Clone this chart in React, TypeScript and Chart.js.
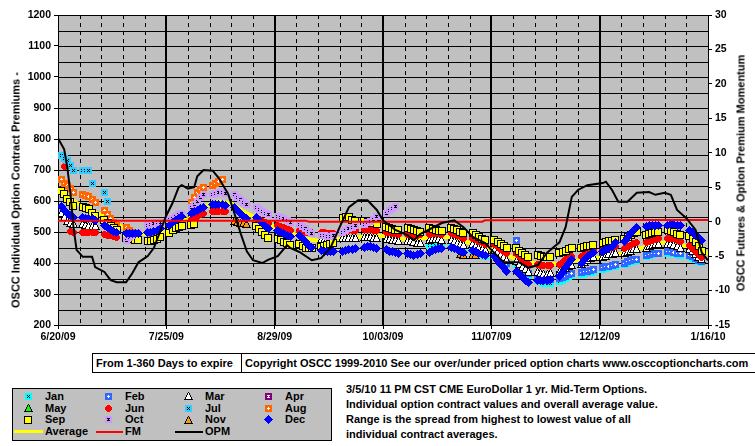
import React, { useEffect, useMemo, useRef } from 'react';
import { Chart, registerables } from 'chart.js';
Chart.register(...registerables);

// x axis: days counted from 6/20/09, labelled every 35 days
const xLabels = ['6/20/09', '7/25/09', '8/29/09', '10/03/09', '11/07/09', '12/12/09', '1/16/10'];

// Contract series: [week index, five weekday values] (week k = days 7k+1 .. 7k+5)
type Weeks = [number, (number | null)[]][];

const jan: Weeks = [
  [17, [456, 456, 457, 457, 456]],
  [18, [456, 452, 448, 445, 442]],
  [19, [440, 435, 430, 426, 422]],
  [20, [425, 418, 410, 402, 395]],
  [21, [395, 385, 375, 367, 360]],
  [22, [345, 340, 335, 333, 333]],
  [23, [340, 345, 350, 355, 360]],
  [24, [362, 366, 368, 370, 372]],
  [25, [380, 383, 386, 388, 390]],
  [26, [396, 400, 404, 406, 408]],
  [27, [420, 425, 428, 430, 432]],
  [28, [432, 432, 430, 428, 425]],
  [29, [420, 415, 410, 405, 402]],
];
const feb: Weeks = [
  [20, [430, 422, 414, 406, 398]],
  [21, [474, 390, 380, 372, 365]],
  [22, [355, 350, 346, 345, 346]],
  [23, [350, 354, 358, 362, 366]],
  [24, [370, 372, 374, 376, 378]],
  [25, [384, 388, 390, 392, 394]],
  [26, [400, 404, 408, 410, 412]],
  [27, [425, 428, 430, 432, 432]],
  [28, [436, 436, 435, 432, 430]],
  [29, [425, 420, 414, 408, 404]],
];
const mar: Weeks = [
  [0, [560, 550, 535, 528, 525]],
  [1, [525, 522, 520, 520, 520]],
  [12, [476, 477, 478, 479, 480]],
  [13, [480, 481, 482, 482, 482]],
  [14, [485, 484, 483, 482, 481]],
  [15, [478, 476, 474, 473, 472]],
  [16, [472, 470, 468, 466, 466]],
  [17, [474, 476, 477, 476, 474]],
  [18, [474, 470, 466, 462, 458]],
  [19, [462, 456, 450, 446, 442]],
  [20, [442, 434, 426, 418, 410]],
  [21, [408, 398, 388, 380, 372]],
  [22, [372, 368, 366, 366, 368]],
  [23, [372, 378, 384, 390, 395]],
  [24, [398, 404, 410, 415, 420]],
  [25, [420, 424, 428, 430, 432]],
  [26, [432, 436, 440, 444, 446]],
  [27, [450, 455, 458, 460, 460]],
  [28, [462, 460, 458, 455, 450]],
  [29, [445, 438, 430, 420, 412]],
];
const apr: Weeks = [];
const may: Weeks = [];
const jun: Weeks = [
  [0, [null, 710, null, 501, 500]],
  [1, [497, 497, 497, 497, 497]],
  [2, [492, 490, 488, 485, 482]],
  [6, [540, 545, 550, 555, 560]],
  [7, [565, 566, 567, 567, 566]],
  [9, [545, 540, 535, 530, 528]],
  [10, [522, 518, 514, 510, 506]],
  [11, [504, 502, 500, 500, 500]],
  [12, [500, 497, 495, 494, 494]],
  [13, [500, 502, 504, 505, 505]],
  [14, [508, 508, 507, 506, 505]],
  [15, [500, 498, 496, 494, 492]],
  [16, [492, 490, 488, 488, 492]],
  [17, [492, 494, 495, 494, 492]],
  [18, [495, 492, 488, 484, 480]],
  [19, [480, 475, 470, 465, 460]],
  [20, [460, 452, 444, 438, 432]],
  [21, [430, 420, 410, 402, 396]],
  [22, [395, 393, 392, 392, 393]],
  [23, [395, 402, 410, 416, 422]],
  [24, [420, 426, 432, 438, 442]],
  [25, [440, 444, 448, 450, 452]],
  [26, [446, 452, 458, 462, 466]],
  [27, [465, 470, 474, 476, 478]],
  [28, [478, 480, 478, 474, 470]],
  [29, [458, 448, 438, 428, 418]],
];
const jul: Weeks = [
  [0, [748, 738, 732, 716, 700]],
  [1, [700, 700, 698, 658, null]],
  [2, [629, 597, null, null, null]],
];
const aug: Weeks = [
  [0, [668, 658, 650, 639, 626]],
  [1, [622, 619, 616, 605, 594]],
  [2, [570, 558, 545, 532, 522]],
  [3, [513, 506, 500, null, null]],
  [4, [null, 492, null, 490, null]],
  [6, [594, 610, 626, 638, 645]],
  [7, [650, 657, 662, 668, null]],
];
const sep: Weeks = [
  [0, [632, 622, 606, 597, 584]],
  [1, [580, 577, 574, 560, 552]],
  [2, [540, 530, 520, 512, 505]],
  [3, [480, 477, 476, 475, 474]],
  [4, [471, 471, 474, 477, 485]],
  [5, [497, 506, 513, 516, 518]],
  [6, [523, 526, null, null, null]],
  [9, [520, 510, 500, 490, 480]],
  [10, [478, 473, 468, 463, 458]],
  [11, [462, 455, 450, 448, 447]],
  [12, [452, 455, 458, 462, 466]],
  [13, [545, 550, 548, 540, 535]],
  [14, [535, 532, 530, 528, 525]],
  [15, [516, 513, 510, 508, 506]],
  [16, [513, 510, 507, 504, 500]],
  [17, [512, 510, 507, 504, 502]],
  [18, [512, 509, 505, 500, 497]],
  [19, [497, 490, 484, 478, 474]],
  [20, [474, 468, 460, 455, 450]],
  [21, [448, 440, 432, 425, 419]],
  [22, [426, 422, 420, 419, 419]],
  [23, [432, 436, 440, 444, 448]],
  [24, [450, 452, 455, 456, 458]],
  [25, [465, 468, 470, 472, 474]],
  [26, [478, 484, 490, 496, 500]],
  [27, [490, 494, 497, 500, 500]],
  [28, [506, 504, 500, 495, 490]],
  [29, [488, 478, 468, 455, 440]],
];
const oct: Weeks = [
  [3, [474, 482, 490, 496, 500]],
  [4, [520, 524, 528, 530, 532]],
  [5, [540, 545, 550, 555, 560]],
  [6, [580, 590, 600, 610, 620]],
  [7, [622, 625, 626, 626, 625]],
  [8, [620, 612, 604, 596, 588]],
  [9, [578, 572, 566, 560, 555]],
  [10, [550, 546, 542, 536, 530]],
  [11, [525, 518, 510, 502, 495]],
  [12, [490, 488, 486, 487, 490]],
  [13, [500, 505, 510, 515, 520]],
  [14, [525, 530, 535, 540, 550]],
  [15, [560, 568, 575, 582, null]],
];
const nov: Weeks = [
  [8, [535, 532, 530, 528, 525]],
  [18, [null, null, null, 428, 427]],
  [19, [426, 426, null, null, null]],
];
const dec: Weeks = [
  [0, [582, 570, 560, 552, 548]],
  [1, [546, 545, 544, 542, 538]],
  [2, [522, 515, 508, 502, 497]],
  [3, [495, 494, 494, 495, 496]],
  [4, [497, 500, 503, 506, 510]],
  [5, [520, 530, 538, 545, 550]],
  [6, [560, 565, 570, 575, 578]],
  [7, [588, 590, 590, 588, 585]],
  [8, [580, 570, 560, 550, 542]],
  [9, [548, 538, 528, 518, 510]],
  [10, [505, 500, 495, 490, 486]],
  [11, [488, 478, 468, 458, 450]],
  [12, [440, 437, 436, 436, 437]],
  [13, [438, 440, 442, 445, 448]],
  [14, [450, 452, 452, 450, 448]],
  [15, [442, 438, 436, 434, 432]],
  [16, [432, 428, 425, 426, 430]],
  [17, [435, 440, 444, 447, 448]],
  [18, [450, 446, 442, 438, 435]],
  [19, [440, 436, 432, 428, 425]],
  [20, [420, 408, 396, 384, 372]],
  [21, [372, 362, 352, 344, 338]],
  [22, [345, 343, 342, 344, 346]],
  [23, [355, 370, 385, 400, 412]],
  [24, [400, 410, 420, 428, 435]],
  [25, [438, 444, 448, 452, 465]],
  [26, [470, 482, 494, 505, 515]],
  [27, [518, 520, 522, 522, 520]],
  [28, [522, 524, 524, 522, 520]],
  [29, [505, 498, 490, 482, 474]],
];

// Average (left axis)
const avgDays = [0, 5, 10, 16, 20, 23, 26, 30, 35, 39, 44, 48, 52, 56, 60, 65, 70, 75, 80, 85, 91, 98, 106, 112, 119, 127, 135, 143, 148, 155, 161, 169, 175, 182, 189, 196, 203, 210];
const avgVals = [642, 600, 570, 548, 520, 505, 495, 494, 500, 525, 552, 585, 598, 592, 565, 540, 516, 500, 478, 470, 478, 485, 488, 476, 481, 484, 458, 435, 413, 397, 397, 410, 417, 429, 450, 466, 455, 430];

// FM (right axis)
const fmDays = [0, 80, 81, 137, 138, 184, 185, 210];
const fmVals = [0.15, 0.15, 0.0, 0.0, 0.2, 0.2, 0.25, 0.25];

// OPM (right axis)
const opmDays = [0, 2, 3, 4, 5, 6, 8, 11, 12, 15, 17, 19, 22, 24, 26, 29, 31, 33, 35, 37, 39, 40, 42, 44, 45, 47, 50, 52, 55, 57, 59, 61, 63, 66, 68, 71, 74, 75, 78, 82, 85, 88, 91, 94, 97, 100, 103, 105, 109, 113, 115, 117, 124, 128, 131, 134, 138, 140, 144, 149, 152, 155, 158, 162, 164, 166, 168, 171, 176, 177, 179, 181, 184, 187, 191, 193, 196, 198, 200, 203, 206, 208, 210];
const opmVals = [12.1, 10.5, 7.9, 4.2, -0.8, -4.1, -5.1, -5.1, -6.6, -7.3, -8.5, -8.8, -8.8, -7.5, -5.9, -5.0, -3.8, -1.4, 0.9, 2.7, 5.0, 5.3, 4.8, 5.0, 6.6, 7.5, 7.4, 6.3, 4.0, 1.2, -1.7, -4.3, -5.6, -6.0, -5.5, -5.0, -3.4, -3.8, -4.4, -5.6, -5.3, -3.8, -0.8, 2.1, 3.1, 3.1, 1.7, 0.2, -1.2, -2.0, -2.7, -1.8, -0.2, 0.2, -0.8, -2.2, -3.1, -4.1, -5.9, -5.9, -6.7, -6.3, -4.5, -3.0, -0.8, 3.6, 4.6, 5.3, 5.6, 5.8, 4.6, 2.9, 2.9, 4.2, 4.3, 3.9, 4.2, 3.9, 1.7, 0.5, -1.2, -4.5, -5.6];

const FONT = "'Liberation Sans', Arial, Helvetica, sans-serif";

function weeksToPoints(w: Weeks) {
  const pts: { x: number; y: number }[] = [];
  w.forEach(([k, vals]) => vals.forEach((v, i) => { if (v != null) pts.push({ x: 7 * k + 1 + i, y: v }); }));
  return pts;
}
function zip(xs: number[], ys: number[]) { return xs.map((x, i) => ({ x, y: ys[i] })); }

function canvasOf(w: number, h: number, draw: (c: CanvasRenderingContext2D) => void) {
  const cv = document.createElement('canvas');
  cv.width = w; cv.height = h;
  const c = cv.getContext('2d')!;
  draw(c);
  return cv;
}
function dots(c: CanvasRenderingContext2D, list: number[][], color: string) {
  c.fillStyle = color;
  for (const [x, y] of list) c.fillRect(x, y, 1, 1);
}
function rows(c: CanvasRenderingContext2D, widths: number[], w: number, color: string, y0 = 0) {
  c.fillStyle = color;
  widths.forEach((rw, i) => c.fillRect((w - rw) / 2, y0 + i, rw, 1));
}
const XM = [[2, 2], [4, 2], [3, 3], [2, 4], [4, 4]];
const PLUS = [[3, 2], [2, 3], [3, 3], [4, 3], [3, 4]];
const IBAR = [[2, 2], [3, 2], [4, 2], [3, 3], [2, 4], [3, 4], [4, 4]];
function square(color: string, inner?: number[][], innerColor?: string) {
  return canvasOf(7, 7, (c) => { c.fillStyle = color; c.fillRect(0, 0, 7, 7); if (inner) dots(c, inner, innerColor!); });
}
function tri(color: string) {
  return canvasOf(9, 8, (c) => {
    rows(c, [1, 3, 3, 5, 5, 7, 7, 9], 9, '#000');
    rows(c, [1, 1, 3, 3, 5, 5], 9, color, 1);
  });
}
function buildMarkers() {
  const m: Record<string, HTMLCanvasElement> = {
    jan: square('#00ffff', XM, '#000'),
    feb: square('#3366ff', PLUS, '#fff'),
    mar: tri('#ffffff'),
    apr: square('#800080', IBAR, '#fff'),
    may: tri('#00ff00'),
    jun: canvasOf(7, 7, (c) => rows(c, [3, 5, 7, 7, 7, 5, 3], 7, '#ff0000')),
    jul: square('#33ccff', XM, '#000'),
    aug: square('#ff6600', PLUS, '#fff'),
    sep: canvasOf(8, 8, (c) => { c.fillStyle = '#000'; c.fillRect(0, 0, 8, 8); c.fillStyle = '#ffff00'; c.fillRect(1, 1, 6, 6); }),
    oct: square('#cc99ff', IBAR, '#000'),
    nov: tri('#ff9900'),
    dec: canvasOf(9, 9, (c) => rows(c, [1, 3, 5, 7, 9, 7, 5, 3, 1], 9, '#0000ff')),
  };
  const urls: Record<string, string> = {};
  Object.keys(m).forEach((k) => { urls[k] = m[k].toDataURL(); });
  return { m, urls };
}

const plotPlugin = {
  id: 'excelPlot',
  beforeDraw(chart: any) {
    const { ctx, chartArea: a } = chart;
    ctx.save();
    ctx.fillStyle = '#c0c0c0';
    ctx.fillRect(a.left, a.top, a.right - a.left, a.bottom - a.top);
    ctx.restore();
  },
  beforeDatasetsDraw(chart: any) {
    const { ctx, chartArea: a, scales } = chart;
    const xs = scales.x, ys = scales.y;
    ctx.save();
    ctx.strokeStyle = '#000';
    ctx.lineWidth = 1;
    for (let v = 250; v < 1200; v += 50) {
      const py = Math.round(ys.getPixelForValue(v)) + 0.5;
      ctx.beginPath(); ctx.moveTo(a.left, py); ctx.lineTo(a.right, py); ctx.stroke();
    }
    ctx.setLineDash([4, 4]);
    for (let d = 7; d < 210; d += 7) {
      if (d % 35 === 0) continue;
      const px = Math.round(xs.getPixelForValue(d)) + 0.5;
      ctx.beginPath(); ctx.moveTo(px, a.top); ctx.lineTo(px, a.bottom); ctx.stroke();
    }
    ctx.setLineDash([]);
    ctx.lineWidth = 2;
    for (let d = 35; d < 210; d += 35) {
      const px = Math.round(xs.getPixelForValue(d));
      ctx.beginPath(); ctx.moveTo(px, a.top); ctx.lineTo(px, a.bottom); ctx.stroke();
    }
    ctx.lineWidth = 1;
    ctx.strokeRect(Math.round(a.left) + 0.5, Math.round(a.top) + 0.5, Math.round(a.right - a.left), Math.round(a.bottom - a.top));
    ctx.restore();
    ctx.imageSmoothingEnabled = false;
  },
};

export default function App() {
  const ref = useRef<HTMLCanvasElement>(null);
  const markers = useMemo(() => buildMarkers(), []);

  useEffect(() => {
    const canvas = ref.current;
    if (!canvas) return;
    const m = markers.m;
    const tickFont = { family: FONT, size: 10.5, weight: 'bold' as const };
    const mset = (label: string, w: Weeks, style: HTMLCanvasElement, order: number) => ({
      type: 'scatter' as const, label, data: weeksToPoints(w), pointStyle: style, pointRadius: 3,
      showLine: false, order, yAxisID: 'y',
    });
    const line = (label: string, data: any[], color: string, width: number, axis: string, order: number) => ({
      type: 'scatter' as const, label, data, showLine: true, borderColor: color, backgroundColor: color,
      borderWidth: width, pointRadius: 0, tension: 0, order, yAxisID: axis,
    });
    const chart = new Chart(canvas, {
      type: 'scatter',
      data: {
        datasets: [
          line('OPM', zip(opmDays, opmVals), '#000000', 2, 'y2', 0),
          line('FM', zip(fmDays, fmVals), '#ff0000', 2, 'y2', 1),
          mset('Dec', dec, m.dec, 2),
          mset('Nov', nov, m.nov, 3),
          mset('Oct', oct, m.oct, 4),
          mset('Sep', sep, m.sep, 5),
          mset('Aug', aug, m.aug, 6),
          mset('Jul', jul, m.jul, 7),
          mset('Jun', jun, m.jun, 8),
          mset('May', may, m.may, 9),
          mset('Apr', apr, m.apr, 10),
          mset('Mar', mar, m.mar, 11),
          mset('Feb', feb, m.feb, 12),
          mset('Jan', jan, m.jan, 13),
          line('Average', zip(avgDays, avgVals), '#ffff00', 4, 'y', 14),
        ] as any,
      },
      options: {
        responsive: false,
        animation: false,
        layout: { padding: { top: 15, left: 0, right: 0, bottom: 0 } },
        plugins: { legend: { display: false }, tooltip: { enabled: false } },
        scales: {
          x: {
            type: 'linear', position: 'bottom', min: 0, max: 210,
            ticks: {
              stepSize: 35, autoSkip: false, maxRotation: 0, minRotation: 0, padding: 2,
              color: '#000', font: tickFont,
              callback: (v: any) => (Number(v) % 35 === 0 ? xLabels[Math.round(Number(v) / 35)] : ''),
            },
            grid: { drawOnChartArea: false, drawTicks: true, tickLength: 4, color: '#000' },
            border: { display: true, color: '#000' },
            afterFit: (s: any) => { s.height = 25; },
          },
          y: {
            type: 'linear', position: 'left', min: 200, max: 1200,
            ticks: { stepSize: 100, padding: 3, color: '#000', font: tickFont, callback: (v: any) => String(v) },
            grid: { drawOnChartArea: false, drawTicks: true, tickLength: 4, color: '#000' },
            border: { display: true, color: '#000' },
            afterFit: (s: any) => { s.width = 58; },
          },
          y2: {
            type: 'linear', position: 'right', min: -15, max: 30,
            ticks: { stepSize: 5, padding: 3, color: '#000', font: tickFont, callback: (v: any) => String(v) },
            grid: { drawOnChartArea: false, drawTicks: true, tickLength: 4, color: '#000' },
            border: { display: true, color: '#000' },
            afterFit: (s: any) => { s.width = 47; },
          },
        },
      } as any,
      plugins: [plotPlugin],
    });
    return () => chart.destroy();
  }, [markers]);

  const text: React.CSSProperties = { position: 'absolute', whiteSpace: 'nowrap', fontSize: 11, lineHeight: '13px' };
  const rot = (cx: number, cy: number): React.CSSProperties => ({
    position: 'absolute', left: cx, top: cy, transform: 'translate(-50%, -50%) rotate(-90deg)',
    whiteSpace: 'nowrap', fontSize: 11, lineHeight: '13px',
  });

  const cells: [string, string][] = [
    ['Jan', 'jan'], ['Feb', 'feb'], ['Mar', 'mar'], ['Apr', 'apr'],
    ['May', 'may'], ['Jun', 'jun'], ['Jul', 'jul'], ['Aug', 'aug'],
    ['Sep', 'sep'], ['Oct', 'oct'], ['Nov', 'nov'], ['Dec', 'dec'],
  ];
  const symX = [28, 108, 188, 268];
  const labX = [45, 125, 205, 285];
  const rowY = [396, 408, 419.5, 431.5];
  const lines: [string, string, number, number, number][] = [
    ['Average', '#ffff00', 14, 43, 3],
    ['FM', '#ff0000', 96, 123, 2],
    ['OPM', '#000000', 175, 203, 2],
  ];
  const infoLines = [
    '3/5/10 11 PM CST CME EuroDollar 1 yr. Mid-Term Options.',
    'Individual option contract values and overall average value.',
    'Range is the spread from highest to lowest value of all',
    'individual contract averages.',
  ];
  const infoY = [389, 404, 419, 434];

  return (
    <div style={{ position: 'fixed', left: 0, top: 0, width: 755, height: 446, background: '#fff', overflow: 'hidden', fontFamily: FONT, fontWeight: 700, color: '#000' }}>
      <canvas ref={ref} width={755} height={350} style={{ position: 'absolute', left: 0, top: 0, width: 755, height: 350 }} />
      <div style={rot(16, 190)}>OSCC Individual Option Contract Premiums -</div>
      <div style={rot(741, 173)}>OSCC Futures &amp; Option Premium Momentum</div>

      <div style={{ position: 'absolute', left: 92, top: 353, width: 150, height: 20, boxSizing: 'border-box', border: '1px solid #000', fontSize: 11, lineHeight: '18px', paddingLeft: 3, whiteSpace: 'nowrap' }}>
        From 1-360 Days to expire
      </div>
      <div style={{ position: 'absolute', left: 241, top: 353, width: 560, height: 20, boxSizing: 'border-box', border: '1px solid #000', fontSize: 11, lineHeight: '18px', paddingLeft: 3, whiteSpace: 'nowrap' }}>
        Copyright OSCC 1999-2010 See our over/under priced option charts www.osccoptioncharts.com
      </div>

      <div style={{ position: 'absolute', left: 12, top: 388, width: 320, height: 53, boxSizing: 'border-box', border: '1px solid #000', background: '#c0c0c0' }} />
      {cells.map(([label, key], i) => {
        const col = i % 4, row = Math.floor(i / 4);
        const cv = markers.m[key];
        return (
          <React.Fragment key={label}>
            <img src={markers.urls[key]} style={{ position: 'absolute', left: Math.round(symX[col] - cv.width / 2), top: Math.round(rowY[row] - cv.height / 2), width: cv.width, height: cv.height, imageRendering: 'pixelated' }} />
            <div style={{ ...text, left: labX[col], top: rowY[row] - 6.5 }}>{label}</div>
          </React.Fragment>
        );
      })}
      {lines.map(([label, color, x0, x1, w], i) => (
        <React.Fragment key={label}>
          <div style={{ position: 'absolute', left: x0, top: rowY[3] - w / 2, width: x1 - x0, height: w, background: color }} />
          <div style={{ ...text, left: [45, 125, 205][i], top: rowY[3] - 6.5 }}>{label}</div>
        </React.Fragment>
      ))}

      {infoLines.map((t, i) => (
        <div key={i} style={{ ...text, left: 346, top: infoY[i] - 6.5 }}>{t}</div>
      ))}
    </div>
  );
}
